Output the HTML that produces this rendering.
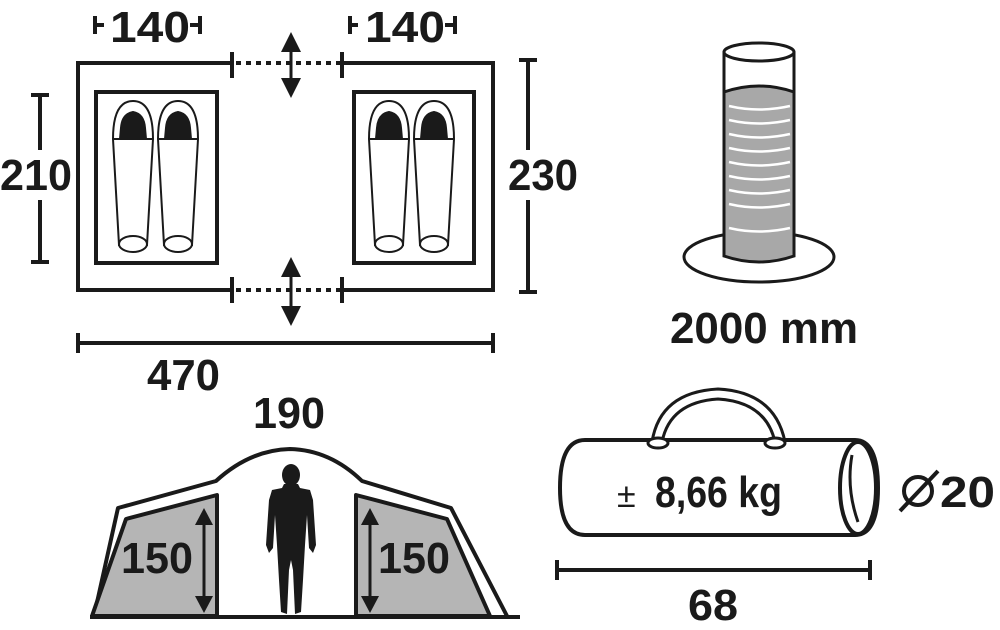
<!DOCTYPE html>
<html><head><style>
html,body{margin:0;padding:0;background:#fff;}
svg{display:block}
text{font-family:"Liberation Sans",sans-serif;font-weight:bold;fill:#1a1a1a}
</style></head><body>
<svg width="1000" height="630" viewBox="0 0 1000 630" xmlns="http://www.w3.org/2000/svg">
<g stroke="#1a1a1a" fill="none" stroke-width="4">
<polyline points="232,63 78,63 78,290 232,290"/>
<polyline points="342,63 493,63 493,290 342,290"/>
<line x1="232" y1="52" x2="232" y2="78"/><line x1="342" y1="52" x2="342" y2="78"/>
<line x1="232" y1="277" x2="232" y2="303"/><line x1="342" y1="277" x2="342" y2="303"/>
<line x1="236" y1="63" x2="340" y2="63" stroke-dasharray="5,5"/>
<line x1="236" y1="290" x2="340" y2="290" stroke-dasharray="5,5"/>
<rect x="96" y="92" width="121" height="171"/>
<rect x="354" y="92" width="120" height="171"/>
</g>
<g fill="#1a1a1a" stroke="#1a1a1a" stroke-width="3">
<line x1="291" y1="42" x2="291" y2="88"/>
<polygon points="281,52 301,52 291,32" stroke="none"/>
<polygon points="281,78 301,78 291,98" stroke="none"/>
<line x1="291" y1="265" x2="291" y2="318"/>
<polygon points="281,277 301,277 291,257" stroke="none"/>
<polygon points="281,306 301,306 291,326" stroke="none"/>
</g>
<g stroke="#1a1a1a" stroke-width="2" fill="#fff">
<g id="bag">
<path d="M113,139 Q113,101 133,101 Q153,101 153,139 L147,245 L119,245 Z"/>
<ellipse cx="133" cy="244" rx="14" ry="8"/>
<path d="M120,139 L121,128 Q122,114 133,112 Q144,114 145,128 L146,139 Z" fill="#1a1a1a"/>
<line x1="113" y1="139" x2="153" y2="139"/>
</g>
<use href="#bag" x="45"/>
<use href="#bag" x="256"/>
<use href="#bag" x="301"/>
</g>
<g stroke="#1a1a1a" stroke-width="4" fill="none">
<line x1="95" y1="16" x2="95" y2="34"/><line x1="95" y1="25" x2="104" y2="25"/>
<line x1="190" y1="25" x2="200" y2="25"/><line x1="200" y1="16" x2="200" y2="34"/>
<line x1="350" y1="16" x2="350" y2="34"/><line x1="350" y1="25" x2="358" y2="25"/>
<line x1="445" y1="25" x2="455" y2="25"/><line x1="455" y1="16" x2="455" y2="34"/>
<line x1="40" y1="95" x2="40" y2="262"/><line x1="31" y1="95" x2="49" y2="95"/><line x1="31" y1="262" x2="49" y2="262"/>
<line x1="528" y1="60" x2="528" y2="292"/><line x1="519" y1="60" x2="537" y2="60"/><line x1="519" y1="292" x2="537" y2="292"/>
<line x1="78" y1="343" x2="493" y2="343"/><line x1="78" y1="333" x2="78" y2="353"/><line x1="493" y1="333" x2="493" y2="353"/>
<line x1="557" y1="570" x2="870" y2="570"/><line x1="557" y1="560" x2="557" y2="580"/><line x1="870" y1="560" x2="870" y2="580"/>
</g>
<rect x="0" y="150" width="76" height="50" fill="#fff"/>
<rect x="506" y="150" width="76" height="50" fill="#fff"/>
<text x="110" y="42" font-size="44" textLength="80" lengthAdjust="spacingAndGlyphs">140</text>
<text x="365" y="42" font-size="44" textLength="80" lengthAdjust="spacingAndGlyphs">140</text>
<text x="0" y="190" font-size="44" textLength="72" lengthAdjust="spacingAndGlyphs">210</text>
<text x="508" y="190" font-size="44" textLength="70" lengthAdjust="spacingAndGlyphs">230</text>
<text x="147" y="390" font-size="44" textLength="73" lengthAdjust="spacingAndGlyphs">470</text>
<text x="670" y="343" font-size="44" textLength="188" lengthAdjust="spacingAndGlyphs">2000 mm</text>
<text x="253" y="428" font-size="44" textLength="72" lengthAdjust="spacingAndGlyphs">190</text>
<text x="688" y="620" font-size="44" textLength="50" lengthAdjust="spacingAndGlyphs">68</text>
<g stroke="#1a1a1a" stroke-width="3">
<ellipse cx="759" cy="257" rx="75" ry="25" fill="#fff"/>
<path d="M724,92 Q759,80 794,92 L794,256 Q759,268 724,256 Z" fill="#a8a8a8"/>
<line x1="724" y1="52" x2="724" y2="256" fill="none"/>
<line x1="794" y1="52" x2="794" y2="256" fill="none"/>
<ellipse cx="759" cy="52" rx="35" ry="9" fill="#fff"/>
</g>
<g stroke="#fff" stroke-width="2.5" fill="none">
<path d="M729,106 Q759,113 790,106"/><path d="M729,120 Q759,127 790,120"/><path d="M729,134 Q759,141 790,134"/>
<path d="M729,148 Q759,155 790,148"/><path d="M729,162 Q759,169 790,162"/><path d="M729,176 Q759,183 790,176"/>
<path d="M729,190 Q759,197 790,190"/><path d="M729,204 Q759,211 790,204"/><path d="M729,228 Q759,235 790,228"/>
</g>
<g stroke="#1a1a1a" stroke-width="4" stroke-linejoin="round">
<path d="M94,616 L118,508 L216,481 Q250,450 290,449 Q330,450 362,481 L451,508 L507,616" fill="none"/>
<polygon points="92,616 126,519 217,495 217,616" fill="#b5b5b5"/>
<polygon points="356,495 447,519 490,616 356,616" fill="#b5b5b5"/>
<line x1="90" y1="617" x2="520" y2="617"/>
</g>
<g fill="#1a1a1a" stroke="#1a1a1a" stroke-width="3">
<line x1="204" y1="525" x2="204" y2="600"/>
<polygon points="195,525 213,525 204,508" stroke="none"/>
<polygon points="195,596 213,596 204,613" stroke="none"/>
<line x1="370" y1="525" x2="370" y2="600"/>
<polygon points="361,525 379,525 370,508" stroke="none"/>
<polygon points="361,596 379,596 370,613" stroke="none"/>
</g>
<text x="121" y="573" font-size="44" textLength="72" lengthAdjust="spacingAndGlyphs">150</text>
<text x="378" y="573" font-size="44" textLength="72" lengthAdjust="spacingAndGlyphs">150</text>
<g fill="#1a1a1a">
<ellipse cx="291" cy="475" rx="9" ry="11"/>
<path d="M284,484 L298,484 L300,488 L310,490 L313,500 L316,545 L313,553 L309,548 L307,515 L305,545 L303,580 L301,612 L295,614 L293,570 L291,560 L289,570 L287,614 L281,612 L279,580 L277,545 L275,515 L273,548 L269,553 L266,545 L269,500 L272,490 L282,488 Z"/>
</g>
<g stroke="#1a1a1a" stroke-width="4" fill="#fff">
<path d="M652,442 Q660,392 718,389 Q775,392 785,442 L775,442 Q766,402 718,399 Q670,402 662,442 Z" stroke-width="3"/>
<path d="M585,440 L855,440 Q878,440 878,488 Q878,535 855,535 L585,535 Q560,535 560,488 Q560,440 585,440 Z"/>
<ellipse cx="858" cy="488" rx="18" ry="46"/>
<path d="M852,455 Q846,488 858,522" fill="none" stroke-width="3"/>
<ellipse cx="658" cy="443" rx="10" ry="5" stroke-width="3"/>
<ellipse cx="775" cy="443" rx="10" ry="5" stroke-width="3"/>
</g>
<text x="617" y="507" font-size="34" style="font-weight:normal">±</text>
<text x="655" y="507" font-size="44" textLength="127" lengthAdjust="spacingAndGlyphs">8,66 kg</text>
<g stroke="#1a1a1a" stroke-width="4" fill="none">
<circle cx="918" cy="491" r="14"/>
<line x1="900" y1="511" x2="938" y2="471"/>
</g>
<text x="940" y="507" font-size="44" textLength="55" lengthAdjust="spacingAndGlyphs">20</text>
</svg>
</body></html>
